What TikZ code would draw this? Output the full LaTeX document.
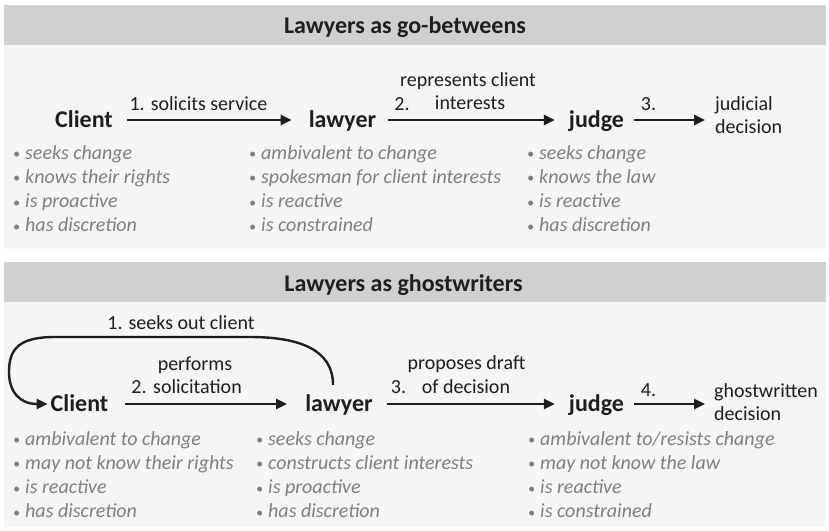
\documentclass[tikz,border=0pt]{standalone}
\usepackage{fontspec}
\setmainfont{Carlito}
\usetikzlibrary{arrows.meta}
\definecolor{hdr}{HTML}{CFD0D2}
\definecolor{pnl}{HTML}{F5F5F5}
\definecolor{txtg}{HTML}{7F7F7F}
\definecolor{ink}{HTML}{1E1E1E}
\newcommand\bul{\makebox[12pt][l]{\fontsize{14}{14}\selectfont\raisebox{0.5pt}{•}}}
\begin{document}
\begin{tikzpicture}[x=1pt,y=-1pt,
  actor/.style={font=\fontsize{24}{26}\selectfont\bfseries, inner sep=0pt, text height=18pt, text depth=4pt, anchor=base, text=ink},
  lbl/.style={font=\fontsize{20}{23.5}\selectfont, inner sep=0pt, anchor=base, text=ink},
  pnt/.style={font=\fontsize{20}{24}\selectfont\itshape, inner sep=0pt, anchor=base west, text=txtg},
  arr/.style={draw=ink, line width=2.4pt, -{Triangle[length=11pt,width=10pt]}},
  ttl/.style={font=\fontsize{24}{26}\selectfont\bfseries, inner sep=0pt, anchor=base, text=ink}]
\useasboundingbox (0,0) rectangle (829,530);
\fill[white] (0,0) rectangle (829,530);
% panels
\fill[hdr] (4,5) rectangle (826,45);
\fill[pnl] (4,45) rectangle (826,249);
\fill[hdr] (4,262) rectangle (826,302);
\fill[pnl] (4,302) rectangle (826,527);
\node[ttl] (t1) at (405,33) {Lawyers as go-betweens};
\node[ttl] (t2) at (403.5,291) {Lawyers as ghostwriters};

% ---------- top: go-betweens ----------
\node[actor] (c1) at (84,127) {Client};
\node[actor] (l1) at (342.5,127) {lawyer};
\node[actor] (j1) at (596.5,127) {judge};
\node[lbl, anchor=base west, align=left] (jd) at (715,133.5) {judicial\\decision};

\draw[arr, shorten <=14pt, shorten >=17pt] (c1.east) -- (l1.west);
\draw[arr, shorten <=12pt, shorten >=14pt] (l1.east) -- (j1.west);
\draw[arr, shorten <=10pt, shorten >=10pt] (j1.east) -- (j1.east -| jd.west);

\node[lbl] (a1) at (198.5,110) {1. solicits service};
\node[lbl] (a2n) at (402,110) {2.};
\node[lbl] (a2a) at (468,86) {represents client};
\node[lbl] (a2b) at (470,109) {interests};
\node[lbl] (a3) at (648.5,110) {3.};

\foreach \t [count=\i] in {seeks change, knows their rights, is proactive, has discretion}
  \node[pnt] (pc1\i) at (13,{159+24.3*(\i-1)}) {\bul\t};
\foreach \t [count=\i] in {ambivalent to change, spokesman for client interests, is reactive, is constrained}
  \node[pnt] (pl1\i) at (249,{159+24.3*(\i-1)}) {\bul\t};
\foreach \t [count=\i] in {seeks change, knows the law, is reactive, has discretion}
  \node[pnt] (pj1\i) at (527,{159+24.3*(\i-1)}) {\bul\t};

% ---------- bottom: ghostwriters ----------
\node[actor] (c2) at (79.5,411) {Client};
\node[actor] (l2) at (339,411) {lawyer};
\node[actor] (j2) at (596.5,411) {judge};
\node[lbl, anchor=base west, align=left] (gd) at (714,420.5) {ghostwritten\\decision};

\draw[arr, shorten >=3pt] ([xshift=-6pt,yshift=8pt]l2.north)
  .. controls (333,350) and (300,337) .. (250,337) -- (55,337)
  .. controls (20,337) and (9,348) .. (9,372)
  .. controls (9,392) and (20,404) .. (c2.west);
\draw[arr, shorten <=17pt, shorten >=18pt] (c2.east) -- (l2.west);
\draw[arr, shorten <=14pt, shorten >=14pt] (l2.east) -- (j2.west);
\draw[arr, shorten <=10pt, shorten >=9pt] (j2.east) -- (j2.east -| gd.west);

\node[lbl] (b1) at (181,329) {1. seeks out client};
\node[lbl] (b2a) at (195,370) {performs};
\node[lbl] (b2n) at (139,393) {2.};
\node[lbl] (b2b) at (197.5,393) {solicitation};
\node[lbl] (b3a) at (466.5,369) {proposes draft};
\node[lbl] (b3n) at (398.5,393) {3.};
\node[lbl] (b3b) at (466,393) {of decision};
\node[lbl] (b4) at (648.5,396) {4.};

\foreach \t [count=\i] in {ambivalent to change, may not know their rights, is reactive, has discretion}
  \node[pnt] (pc2\i) at (13,{445+24.3*(\i-1)}) {\bul\t};
\foreach \t [count=\i] in {seeks change, constructs client interests, is proactive, has discretion}
  \node[pnt] (pl2\i) at (256,{445+24.3*(\i-1)}) {\bul\t};
\foreach \t [count=\i] in {ambivalent to/resists change, may not know the law, is reactive, is constrained}
  \node[pnt] (pj2\i) at (528,{445+24.3*(\i-1)}) {\bul\t};
\end{tikzpicture}
\end{document}
